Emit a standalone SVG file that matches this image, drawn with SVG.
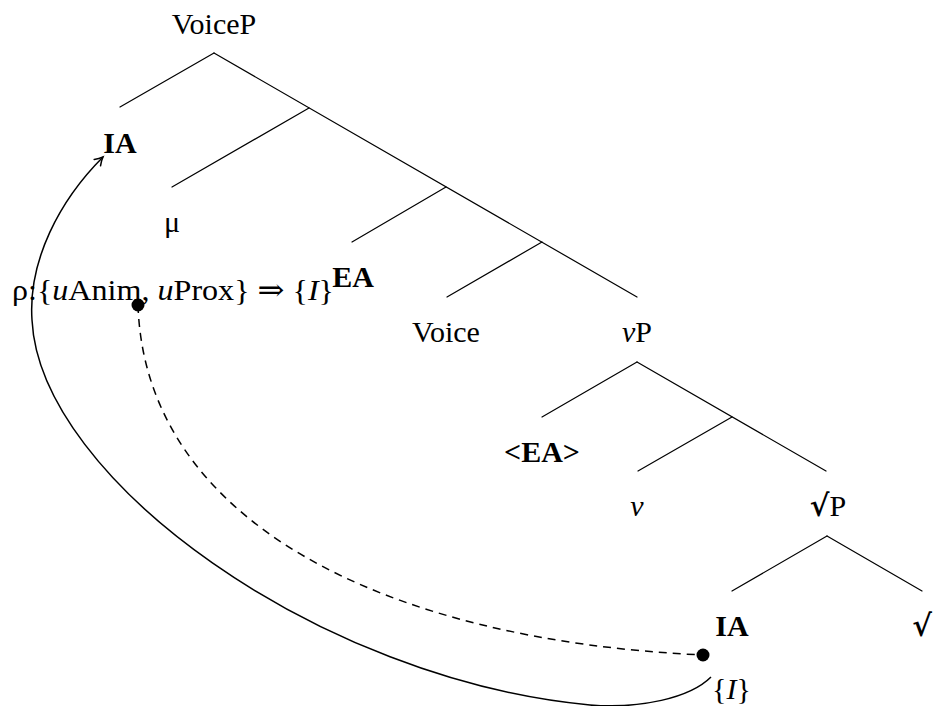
<svg xmlns="http://www.w3.org/2000/svg" width="936" height="706" viewBox="0 0 936 706">
<style>
text { font-family: "Liberation Serif", "DejaVu Serif", serif; font-size: 30px; fill: #000; }
.c { text-anchor: middle; }
.b { font-weight: bold; }
.i { font-style: italic; }
.sym { font-family: "DejaVu Serif", serif; }
.edge { stroke: #000; stroke-width: 1.2; fill: none; stroke-linecap: round; }
.arc { stroke: #000; stroke-width: 1.5; fill: none; }
.dash { stroke: #000; stroke-width: 1.5; fill: none; stroke-dasharray: 8 6; }
</style>
<defs>
<marker id="arr" markerWidth="14" markerHeight="14" refX="10" refY="7" orient="auto" markerUnits="userSpaceOnUse">
<path d="M2,2.5 Q6,5.5 10,7 Q6,8.5 2,11.5" fill="none" stroke="#000" stroke-width="1.5" stroke-linecap="round"/>
</marker>
</defs>
<rect width="936" height="706" fill="#fff"/>
<g id="connectors">
<line class="edge" x1="214" y1="53" x2="120" y2="107"/>
<line class="edge" x1="214" y1="53" x2="637" y2="297"/>
<line class="edge" x1="309" y1="108" x2="172" y2="187"/>
<line class="edge" x1="446" y1="187" x2="352" y2="242"/>
<line class="edge" x1="542" y1="242" x2="447" y2="297"/>
<line class="edge" x1="637" y1="362" x2="542" y2="417"/>
<line class="edge" x1="637" y1="362" x2="826" y2="471"/>
<line class="edge" x1="732" y1="417" x2="638" y2="471"/>
<line class="edge" x1="827" y1="536" x2="732" y2="591"/>
<line class="edge" x1="827" y1="536" x2="922" y2="591"/>
<path class="dash" d="M138,305 C145,520 380,640 703,655"/>
<path class="arc" marker-end="url(#arr)" d="M711,677 C690,698 640,709 590,705 C320,680 40,480 32,320 C28,260 60,200 103,157"/>
<circle cx="138" cy="305" r="6.5" fill="#000"/>
<circle cx="703" cy="655" r="6.5" fill="#000"/>
</g>
<g id="n-voicep"><text class="c" x="214" y="34">VoiceP</text></g>
<g id="n-ia-top"><text class="c b" x="120" y="153">IA</text></g>
<g id="n-mu"><text class="c" x="172" y="232">μ</text></g>
<g id="n-rho"><text x="12" y="300" textLength="322" lengthAdjust="spacingAndGlyphs">ρ:{<tspan class="i">u</tspan>Anim, <tspan class="i">u</tspan>Prox} <tspan class="sym">⇒</tspan> {<tspan class="i">I</tspan>}</text></g>
<g id="n-ea"><text class="c b" x="353" y="287">EA</text></g>
<g id="n-voice"><text class="c" x="446" y="342">Voice</text></g>
<g id="n-vp"><text class="c" x="637" y="342"><tspan class="i">v</tspan>P</text></g>
<g id="n-ea-copy"><text class="c b" x="542" y="462">&lt;EA&gt;</text></g>
<g id="n-v"><text class="c i" x="637" y="516">v</text></g>
<g id="n-rootp"><text class="c" x="828" y="516"><tspan class="sym b">√</tspan>P</text></g>
<g id="n-ia-low"><text class="c b" x="732" y="636">IA</text></g>
<g id="n-root"><text class="c sym b" x="922" y="636">√</text></g>
<g id="n-i-feature"><text x="712" y="699">{<tspan class="i">I</tspan>}</text></g>
</svg>
